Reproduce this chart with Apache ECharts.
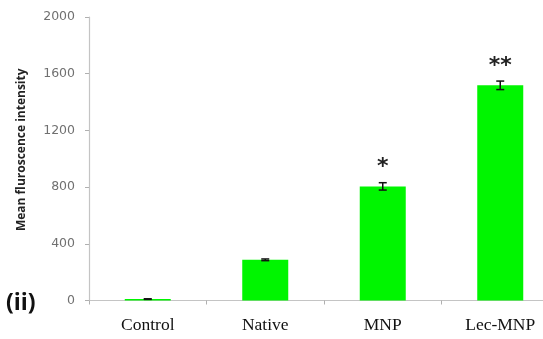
<!DOCTYPE html>
<html>
<head>
<meta charset="utf-8">
<script src="https://cdn.jsdelivr.net/npm/echarts@6/dist/echarts.min.js"></script>
<style>html,body{margin:0;padding:0;background:#fff}#c{width:543px;height:339px}</style>
</head>
<body>
<div id="c"></div>
<script>
const categories = ['Control', 'Native', 'MNP', 'Lec-MNP'];
const values = [10, 287, 805, 1518];
const errors = [2, 6, 26, 30];
const marks = ['', '', '*', '**'];
const yTicks = [0, 400, 800, 1200, 1600, 2000];

const chart = echarts.init(document.getElementById('c'));
chart.setOption({
  animation: false,
  grid: { left: 89, top: 17, bottom: 38.5, right: -16, outerBoundsMode: 'none', containLabel: false },
  graphic: [{
    type: 'text', left: 6, top: 292,
    style: { text: '(ii)', font: 'bold 23px "Open Sans", sans-serif', fill: '#111' }
  }],
  xAxis: {
    type: 'category',
    data: categories,
    axisLine: { lineStyle: { color: '#c4c4c4', width: 1.2 } },
    axisTick: { show: true, length: 4, lineStyle: { color: '#b0b0b0' } },
    axisLabel: { color: '#111', fontFamily: 'Liberation Serif', fontSize: 17.5, margin: 16 }
  },
  yAxis: {
    type: 'value', min: 0, max: 2000, interval: 400,
    name: 'Mean fluroscence intensity',
    nameLocation: 'middle', nameGap: 61,
    nameTextStyle: { fontFamily: '"Open Sans", sans-serif', fontWeight: 'bold', fontSize: 12, color: '#222', padding: [0, 0, 0, 18] },
    axisLine: { show: true, lineStyle: { color: '#c4c4c4', width: 1.2 } },
    axisTick: { show: true, length: 4, lineStyle: { color: '#b0b0b0' } },
    splitLine: { show: false },
    axisLabel: {
      color: '#707070', fontFamily: '"DejaVu Sans", sans-serif', fontSize: 12.5, margin: 14,
      formatter: v => yTicks.includes(v) ? String(v) : ''
    }
  },
  series: [{
    type: 'bar',
    data: values,
    barWidth: 46,
    itemStyle: { color: '#00f500' }
  }, {
    type: 'custom',
    data: categories.map((c, i) => [i, values[i], errors[i], marks[i]]),
    renderItem: (params, api) => {
      const x = api.value(0), v = api.value(1), e = api.value(2);
      const top = api.coord([x, v + e]);
      const bot = api.coord([x, v - e]);
      const hw = 4;
      const children = [
        { type: 'line', shape: { x1: top[0], y1: top[1], x2: bot[0], y2: bot[1] }, style: { stroke: '#111', lineWidth: 1.5 } },
        { type: 'line', shape: { x1: top[0] - hw, y1: top[1], x2: top[0] + hw, y2: top[1] }, style: { stroke: '#111', lineWidth: 1.5 } },
        { type: 'line', shape: { x1: bot[0] - hw, y1: bot[1], x2: bot[0] + hw, y2: bot[1] }, style: { stroke: '#111', lineWidth: 1.5 } }
      ];
      const m = marks[params.dataIndex];
      if (m) {
        children.push({
          type: 'text',
          style: { text: m, x: top[0], y: top[1] - 4, align: 'center', verticalAlign: 'bottom',
                   font: 'bold 22px "DejaVu Sans", sans-serif', fill: '#222' }
        });
      }
      return { type: 'group', children };
    },
    z: 5
  }]
});
</script>
</body>
</html>
